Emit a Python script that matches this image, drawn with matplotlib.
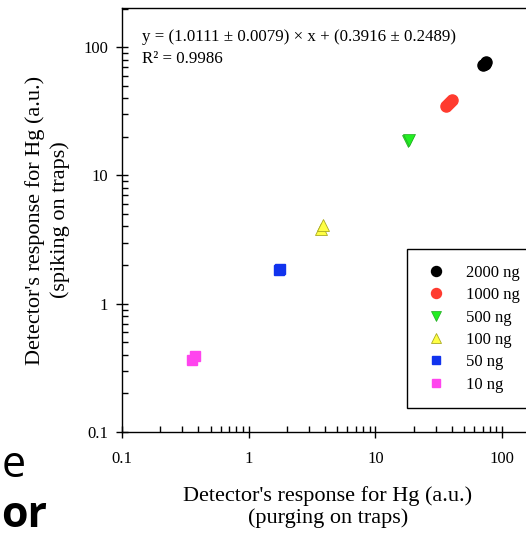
import numpy as np
import matplotlib.pyplot as plt
from matplotlib.ticker import LogLocator, NullFormatter, FixedLocator

# response values (purging on traps, spiking on traps)
x_2000 = [71.0, 73.0, 74.0]
y_2000 = [72.0, 74.0, 76.0]
x_1000 = [36.0, 37.5, 39.0, 40.0]
y_1000 = [34.5, 36.0, 37.5, 38.5]
x_500 = [18.0, 18.5]
y_500 = [18.5, 19.0]
x_100 = [3.75, 3.85]
y_100 = [3.8, 4.1]
x_50 = [1.74, 1.78]
y_50 = [1.82, 1.87]
x_10 = [0.36, 0.38]
y_10 = [0.365, 0.39]

labels = ['2000 ng', '1000 ng', '500 ng', '100 ng', '50 ng', '10 ng']
tick_vals = [0.1, 1, 10, 100]
tick_labels = ['0.1', '1', '10', '100']

plt.rcParams['font.family'] = ['Liberation Serif', 'DejaVu Serif']

fig = plt.figure(figsize=(5.26, 5.37), dpi=100)
# axes runs off the right edge of the picture like the cropped original
ax = fig.add_axes([122/526, 1 - 432/537, 426/526, 424/537])

ms = 8
ax.plot(x_2000, y_2000, 'o', color='black', ms=ms, label=labels[0])
ax.plot(x_1000, y_1000, 'o', color='#ff3b2f', ms=ms, label=labels[1])
ax.plot(x_500, y_500, 'v', color='#22ee22', ms=ms, mec='#22aa22', mew=0.5, label=labels[2])
ax.plot(x_100, y_100, '^', color='#ffff44', ms=ms, mec='#aaaa22', mew=0.6, label=labels[3])
ax.plot(x_50, y_50, 's', color='#1133ee', ms=7, label=labels[4])
ax.plot(x_10, y_10, 's', color='#ff44ee', ms=7, label=labels[5])

ax.set_xscale('log')
ax.set_yscale('log')
ax.set_xlim(0.1, 230)
ax.set_ylim(0.1, 202)

ax.xaxis.set_major_locator(FixedLocator(tick_vals))
ax.yaxis.set_major_locator(FixedLocator(tick_vals))
ax.set_xticklabels(tick_labels)
ax.set_yticklabels(tick_labels)
ax.xaxis.set_minor_locator(LogLocator(base=10, subs=np.arange(2, 10)))
ax.yaxis.set_minor_locator(LogLocator(base=10, subs=np.arange(2, 10)))
ax.xaxis.set_minor_formatter(NullFormatter())
ax.yaxis.set_minor_formatter(NullFormatter())
ax.tick_params(which='major', direction='inout', length=8, width=1, labelsize=12, pad=6)
ax.tick_params(which='minor', direction='in', length=4, width=1)
ax.tick_params(axis='x', pad=10)
for s in ax.spines.values():
    s.set_linewidth(1)

ax.set_xlabel("Detector's response for Hg (a.u.)\n(purging on traps)", fontsize=16,
              linespacing=1.15)
ax.xaxis.set_label_coords((328 - 122) / 426, -54 / 424)
ax.set_ylabel("Detector's response for Hg (a.u.)\n(spiking on traps)", fontsize=16,
              linespacing=1.35)
ax.yaxis.set_label_coords(-52 / 426, 0.5)

ax.text(0.1436, 120, u'y = (1.0111 \u00b1 0.0079) \u00d7 x + (0.3916 \u00b1 0.2489)',
        fontsize=12.2, va='center')
ax.text(0.1436, 80.5, u'R\u00b2 = 0.9986', fontsize=12.2, va='center')

leg = ax.legend(loc='upper left', bbox_to_anchor=((407 - 122) / 426, (432 - 249) / 424),
                fontsize=12, fancybox=False, edgecolor='black', framealpha=1,
                handletextpad=1.0, labelspacing=0.38, borderpad=0.95, handlelength=1.6,
                borderaxespad=0, markerscale=0.9)
leg.get_frame().set_linewidth(1)

# slide text cropped at the left edge
fig.text(0.004, 1 - 477/537, 'e', fontsize=31, family='Open Sans')
fig.text(0.002, 1 - 527/537, 'or', fontsize=31, family='Open Sans', weight='bold')

fig.savefig('out.png', dpi=100)
